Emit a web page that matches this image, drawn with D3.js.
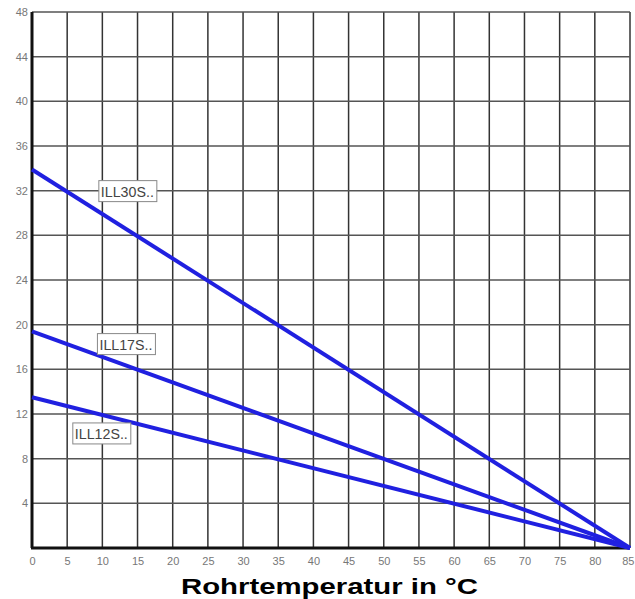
<!DOCTYPE html>
<html>
<head>
<meta charset="utf-8">
<script src="https://cdn.jsdelivr.net/npm/d3@7"></script>
<style>
  body { margin: 0; background: #fff; }
  svg { display: block; }
</style>
</head>
<body>
<svg id="chart" width="635" height="599"></svg>
<script>
// data
var xTicks = d3.range(0, 90, 5);
var yTicks = d3.range(4, 52, 4);
var seriesNames = ["ILL30S..", "ILL17S..", "ILL12S.."];
var startValues = [33.9, 19.4, 13.5];   // value at 0 °C
var endTemp = 85;                         // all lines reach 0 at 85 °C
var labelAt = [[9.5, 32.9], [9.3, 19.2], [5.8, 11.2]]; // label box top-left in data units
var xTitle = "Rohrtemperatur in °C";

(function() {
  var svg = d3.select("#chart");
  var left = 32, right = 630, top = 12, bottom = 548;

  var x = d3.scaleLinear().domain([0, 85]).range([left, right]);
  var y = d3.scaleLinear().domain([0, 48]).range([bottom, top]);

  var grid = svg.append("g");
  grid.selectAll("line.v")
    .data(xTicks.slice(1))
    .enter().append("line")
    .attr("x1", function(d) { return x(d); })
    .attr("x2", function(d) { return x(d); })
    .attr("y1", top).attr("y2", bottom)
    .attr("stroke", "#333").attr("stroke-width", 1.5);
  grid.selectAll("line.h")
    .data(yTicks)
    .enter().append("line")
    .attr("x1", left).attr("x2", right)
    .attr("y1", function(d) { return y(d); })
    .attr("y2", function(d) { return y(d); })
    .attr("stroke", "#555").attr("stroke-width", 1.5);

  // axes frame
  svg.append("line").attr("x1", left).attr("x2", left).attr("y1", top).attr("y2", bottom)
    .attr("stroke", "#111").attr("stroke-width", 3);
  svg.append("line").attr("x1", left - 1).attr("x2", right).attr("y1", bottom).attr("y2", bottom)
    .attr("stroke", "#111").attr("stroke-width", 3);

  // tick labels
  var yAxis = d3.axisLeft(y).tickValues(yTicks).tickSize(0).tickPadding(4);
  var gy = svg.append("g").attr("transform", "translate(" + left + ",0)").call(yAxis);
  gy.select(".domain").remove();
  gy.selectAll("text").attr("fill", "#777")
    .style("font", "11px 'Liberation Sans Narrow', 'Liberation Sans', Arial, sans-serif");

  var xAxis = d3.axisBottom(x).tickValues(xTicks).tickSize(0).tickPadding(9);
  var gx = svg.append("g").attr("transform", "translate(0," + bottom + ")").call(xAxis);
  gx.select(".domain").remove();
  gx.selectAll("text").attr("fill", "#777")
    .style("font", "11px 'Liberation Sans Narrow', 'Liberation Sans', Arial, sans-serif");
  // last label sits against the right edge
  gx.selectAll("text").filter(function(d) { return d === endTemp; })
    .attr("text-anchor", "end").attr("dx", 4);

  // series lines
  var lines = seriesNames.map(function(n, i) {
    return { name: n, pts: [[0, startValues[i]], [endTemp, 0]], lab: labelAt[i] };
  });
  var line = d3.line()
    .x(function(d) { return x(d[0]); })
    .y(function(d) { return y(d[1]); });
  svg.append("g").selectAll("path")
    .data(lines)
    .enter().append("path")
    .attr("d", function(d) { return line(d.pts); })
    .attr("fill", "none")
    .attr("stroke", "#2020e0")
    .attr("stroke-width", 4);

  // labels in boxes
  var labs = svg.append("g").selectAll("g")
    .data(lines)
    .enter().append("g")
    .attr("transform", function(d) {
      return "translate(" + x(d.lab[0]) + "," + y(d.lab[1]) + ")";
    });
  labs.append("rect")
    .attr("width", 58).attr("height", 21)
    .attr("fill", "#fff").attr("stroke", "#888").attr("stroke-width", 1);
  labs.append("text")
    .attr("x", 2).attr("y", 16)
    .attr("fill", "#444")
    .attr("textLength", 53).attr("lengthAdjust", "spacingAndGlyphs")
    .style("font", "14px 'Liberation Sans Narrow', 'Liberation Sans', Arial, sans-serif")
    .text(function(d) { return d.name; });

  svg.append("text")
    .attr("x", 181).attr("y", 594)
    .attr("textLength", 297).attr("lengthAdjust", "spacingAndGlyphs")
    .style("font", "bold 22px 'Liberation Sans', Arial, sans-serif")
    .attr("fill", "#000")
    .text(xTitle);
})()
</script>
</body>
</html>
